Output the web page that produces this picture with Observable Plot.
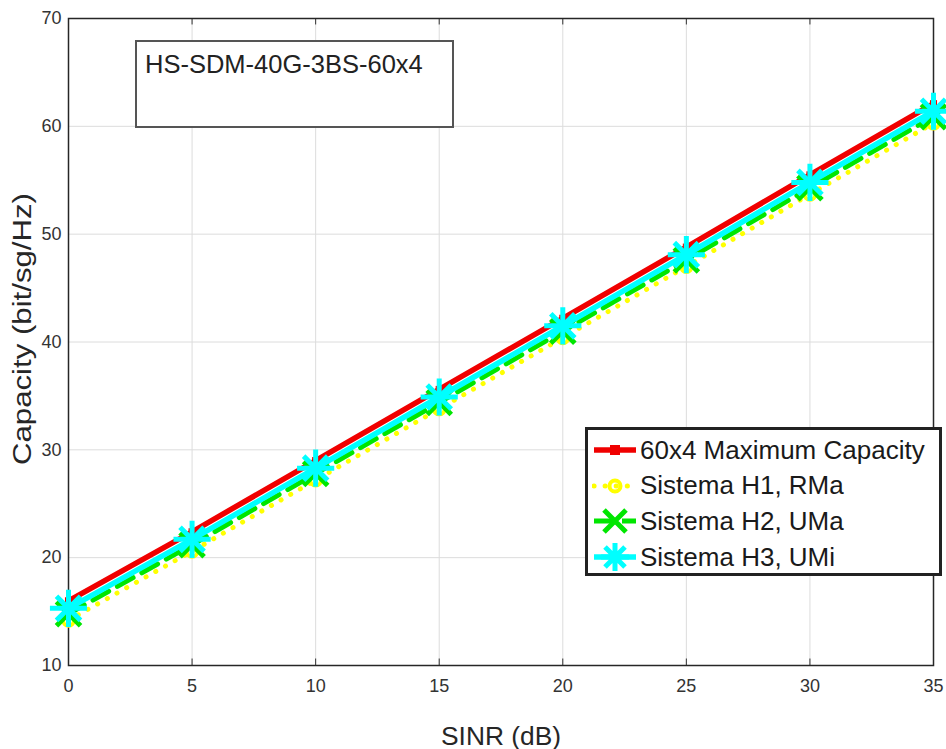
<!DOCTYPE html>
<html>
<head>
<meta charset="utf-8">
<script src="https://cdn.jsdelivr.net/npm/d3@7"></script>
<script src="https://cdn.jsdelivr.net/npm/@observablehq/plot@0.6"></script>
<style>
  html, body { margin: 0; padding: 0; background: #fff; }
  #wrap { position: relative; width: 946px; height: 749px; font-family: "Liberation Sans", Arial, sans-serif; }
  #titlebox { position: absolute; left: 135px; top: 40px; width: 315px; height: 84px; border: 2px solid #555; background: #fff; }
  #titlebox span { position: absolute; left: 8px; top: 8px; font-size: 25.5px; color: #222; white-space: nowrap; }
  #legend { position: absolute; left: 585px; top: 427px; width: 351px; height: 143px; border: 3px solid #222; background: #fff; }
  .row { position: absolute; left: 0; height: 34px; display: flex; align-items: center; }
  .row svg { margin-left: 4px; }
  .row span { font-size: 26px; color: #1a1a1a; margin-left: 2px; white-space: nowrap; }
</style>
</head>
<body>
<div id="wrap"></div>
<script>
const sinr = [0, 5, 10, 15, 20, 25, 30, 35];
const maxCapacity = [16.0, 22.4, 29.0, 35.6, 42.2, 48.8, 55.5, 62.1];
const h1RMa = [14.2, 20.6, 27.2, 33.8, 40.4, 47.0, 53.7, 60.3];
const h2UMa = [14.8, 21.2, 27.8, 34.4, 41.0, 47.6, 54.3, 60.9];
const h3UMi = [15.3, 21.7, 28.3, 34.9, 41.5, 48.1, 54.8, 61.4];
const xTicks = [0, 5, 10, 15, 20, 25, 30, 35];
const yTicks = [10, 20, 30, 40, 50, 60, 70];
const titleText = "HS-SDM-40G-3BS-60x4";
const xLabel = "SINR (dB)";
const yLabel = "Capacity (bit/sg/Hz)";
const seriesNames = ["60x4 Maximum Capacity", "Sistema H1, RMa", "Sistema H2, UMa", "Sistema H3, UMi"];

const mk = (ys) => sinr.map((x, i) => ({x, y: ys[i]}));
const red = mk(maxCapacity), yel = mk(h1RMa), grn = mk(h2UMa), cyn = mk(h3UMi);

const C = {red: "#f00000", yel: "#ffff00", grn: "#00e600", cyn: "#00ffff"};

const chart = Plot.plot({
  width: 946,
  height: 749,
  marginLeft: 68,
  marginRight: 13,
  marginTop: 18,
  marginBottom: 84,
  style: {fontFamily: "Liberation Sans, Arial, sans-serif", fontSize: "18px", background: "#fff"},
  x: {domain: [0, 35], ticks: xTicks},
  y: {domain: [10, 70], ticks: yTicks},
  marks: [
    Plot.gridX(xTicks, {stroke: "#dcdcdc", strokeOpacity: 1, strokeWidth: 1}),
    Plot.gridY(yTicks, {stroke: "#dcdcdc", strokeOpacity: 1, strokeWidth: 1}),
    Plot.axisX(xTicks, {tickSize: 0, tickPadding: 14, fontSize: 18, fill: "#333", label: null}),
    Plot.axisY(yTicks, {tickSize: 0, tickPadding: 7, fontSize: 18, fill: "#333", label: null}),
    Plot.ruleX(xTicks, {x: d => d, y1: 10, y2: 10.6, stroke: "#333", strokeWidth: 1}),
    Plot.ruleX(xTicks, {x: d => d, y1: 69.4, y2: 70, stroke: "#333", strokeWidth: 1}),
    Plot.frame({stroke: "#262626", strokeWidth: 1.5}),
    Plot.text([xLabel], {frameAnchor: "bottom", dy: 79, fontSize: 25, fill: "#262626", className: "xlab"}),
    Plot.text([yLabel], {frameAnchor: "left", textAnchor: "middle", dx: -46, dy: -13, rotate: -90, fontSize: 25, fill: "#262626", className: "ylab"}),
    // red
    Plot.line(red, {x: "x", y: "y", stroke: C.red, strokeWidth: 5.5}),
    Plot.dot(red, {x: "x", y: "y", symbol: "square", fill: C.red, r: 4}),
    // yellow
    Plot.line(yel, {x: "x", y: "y", stroke: C.yel, strokeWidth: 5, strokeDasharray: "0.1,11", strokeLinecap: "round"}),
    Plot.dot(yel, {x: "x", y: "y", symbol: "circle", stroke: C.yel, fill: "none", r: 5.5, strokeWidth: 4}),
    // green
    Plot.line(grn, {x: "x", y: "y", stroke: C.grn, strokeWidth: 5, strokeDasharray: "18,10"}),
    Plot.dot(grn, {x: "x", y: "y", symbol: "times", stroke: C.grn, r: 11, strokeWidth: 5}),
    // cyan
    Plot.line(cyn, {x: "x", y: "y", stroke: C.cyn, strokeWidth: 5.5}),
    Plot.dot(cyn, {x: "x", y: "y", symbol: "plus", stroke: C.cyn, r: 12, strokeWidth: 5}),
    Plot.dot(cyn, {x: "x", y: "y", symbol: "times", stroke: C.cyn, r: 11, strokeWidth: 5})
  ]
});

// stretch axis titles along their length like the reference
chart.querySelectorAll(".ylab text").forEach(t => { t.setAttribute("textLength", 272); t.setAttribute("lengthAdjust", "spacingAndGlyphs"); });
chart.querySelectorAll(".xlab text").forEach(t => { t.setAttribute("textLength", 120); t.setAttribute("lengthAdjust", "spacingAndGlyphs"); });

const wrap = document.getElementById("wrap");
wrap.appendChild(chart);

// title box
const tb = document.createElement("div");
tb.id = "titlebox";
tb.innerHTML = `<span>${titleText}</span>`;
wrap.appendChild(tb);

// legend
const lg = document.createElement("div");
lg.id = "legend";
const sw = [
  `<line x1="2" y1="14" x2="44" y2="14" stroke="${C.red}" stroke-width="5.5"/><rect x="18" y="9" width="10" height="10" fill="${C.red}"/>`,
  `<line x1="2" y1="14" x2="44" y2="14" stroke="${C.yel}" stroke-width="5" stroke-dasharray="0.1,11" stroke-linecap="round"/><circle cx="23" cy="14" r="5.5" fill="none" stroke="${C.yel}" stroke-width="4"/>`,
  `<line x1="2" y1="14" x2="44" y2="14" stroke="${C.grn}" stroke-width="5" stroke-dasharray="18,10"/><path d="M12,3L34,25M34,3L12,25" stroke="${C.grn}" stroke-width="5"/>`,
  `<line x1="2" y1="14" x2="44" y2="14" stroke="${C.cyn}" stroke-width="5.5"/><path d="M23,0V28M9,14H37M13,4L33,24M33,4L13,24" stroke="${C.cyn}" stroke-width="5"/>`
];
seriesNames.forEach((name, i) => {
  const r = document.createElement("div");
  r.className = "row";
  r.style.top = (3 + i * 35.7) + "px";
  r.innerHTML = `<svg width="46" height="28" viewBox="0 0 46 28">${sw[i]}</svg><span>${name}</span>`;
  lg.appendChild(r);
});
wrap.appendChild(lg);
</script>
</body>
</html>
